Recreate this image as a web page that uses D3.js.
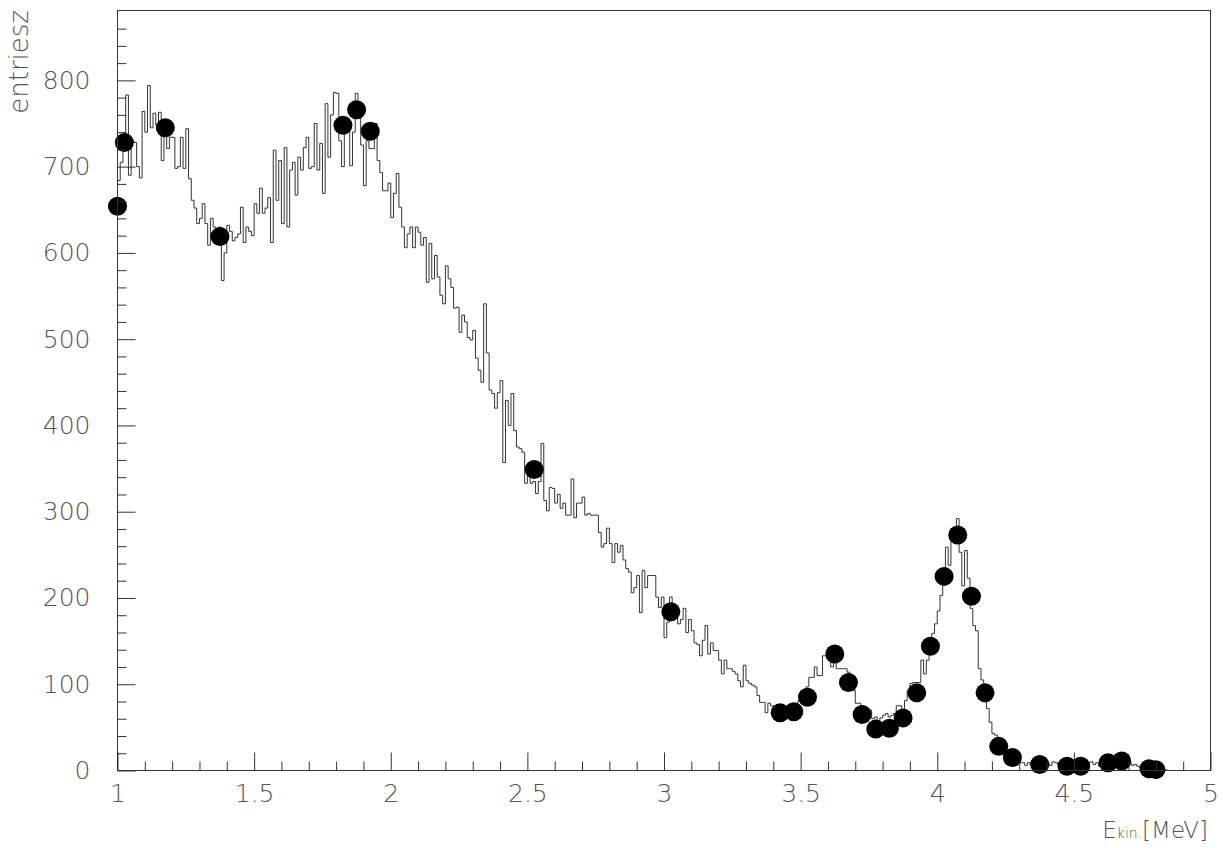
<!DOCTYPE html>
<html><head><meta charset="utf-8">
<script src="https://cdn.jsdelivr.net/npm/d3@7"></script>
<style>body{margin:0;background:#fff}svg{display:block}</style>
</head><body><svg id="c" width="1225" height="848"></svg>
<script>
// ---- data ----
const binStart = 1.0;      // MeV, low edge of first bin
const binWidth = 0.01;     // MeV
const counts = [
 684,705,720,783,690,730,728,700,687,764,
 740,794,745,762,748,763,707,746,721,734,
 734,698,700,734,698,744,686,661,652,634,
 640,657,634,609,640,630,627,630,568,600,
 632,625,614,618,622,653,612,630,625,620,
 657,646,675,646,652,664,612,719,661,707,
 634,722,630,696,705,667,711,696,722,734,
 698,700,750,696,727,669,773,711,760,786,
 785,730,700,757,746,701,740,785,760,725,
 678,730,721,721,750,707,693,672,672,681,
 641,669,692,653,630,606,622,630,606,630,
 624,609,618,566,611,570,597,572,551,541,
 585,570,560,536,537,508,528,520,502,499,
 510,478,464,450,541,484,441,437,420,438,
 452,357,429,400,437,394,375,373,369,333,
 350,333,335,321,335,379,313,301,328,327,
 310,320,304,310,296,296,338,293,310,310,
 317,296,298,296,296,296,276,259,263,281,
 263,241,263,253,261,244,234,230,206,212,
 226,183,232,212,226,226,226,201,189,201,
 154,172,201,189,189,170,175,188,160,175,
 162,148,146,133,151,168,135,148,139,139,
 128,112,128,118,118,115,112,104,97,122,
 104,101,99,97,87,79,79,67,78,75,
 70,70,66,66,66,67,67,73,73,81,
 89,89,97,108,108,120,110,110,133,133,
 133,120,125,118,118,118,118,114,108,93,
 78,78,75,70,70,70,60,62,56,61,
 64,66,62,64,66,75,75,70,81,93,
 101,102,102,102,128,112,128,143,159,170,
 185,203,224,259,238,272,263,292,253,214,
 255,223,188,168,162,118,105,95,72,56,
 43,41,27,27,22,19,19,15,15,12,
 9,9,6,9,6,9,8,10,7,9,
 8,6,10,9,7,8,5,7,6,8,
 10,6,5,8,6,9,10,7,9,5,
 8,11,9,8,10,12,9,8,11,7,
 9,6,7,5,3,4,3,2,3,2,
 3,2,1,1
];
const pointE = [1.0,1.025,1.175,1.375,1.825,1.875,1.925,2.525,3.025,3.425,3.475,3.525,3.625,3.675,3.725,3.775,3.825,3.875,3.925,3.975,4.025,4.075,4.125,4.175,4.225,4.275,4.375,4.475,4.525,4.625,4.675,4.775,4.8];
const pointN = [654,728,745,619,748,766,741,349,184,67,68,85,135,102,65,48,49,61,90,144,225,273,202,90,28,15,7,5,5,9,11,2,1];
const xMajorTicks = [1,1.5,2,2.5,3,3.5,4,4.5,5];
const xTickLabels = ["1","1.5","2","2.5","3","3.5","4","4.5","5"];
const xMinorTicks = [1.1,1.2,1.3,1.4,1.6,1.7,1.8,1.9,2.1,2.2,2.3,2.4,2.6,2.7,2.8,2.9,3.1,3.2,3.3,3.4,3.6,3.7,3.8,3.9,4.1,4.2,4.3,4.4,4.6,4.7,4.8,4.9];
const yMajorTicks = [0,100,200,300,400,500,600,700,800];
const yTickLabels = ["0","100","200","300","400","500","600","700","800"];
const yMinorTicks = [20,40,60,80,120,140,160,180,220,240,260,280,320,340,360,380,420,440,460,480,520,540,560,580,620,640,660,680,720,740,760,780,820,840,860];
const yTitle = "entriesz";
const xTitleMain = "E", xTitleSub = "kin.", xTitleUnit = "[MeV]";
const xDomain = [1,5], yDomain = [0,881];

// ---- drawing ----
const svg = d3.select("#c");
const L = 117.5, R = 1210.5, T = 10.5, B = 770.5;
const x = d3.scaleLinear().domain(xDomain).range([L, R]);
const y = d3.scaleLinear().domain(yDomain).range([B, T]);
const FONT = "'DejaVu Sans', sans-serif";
const AX = "#333", TXT = "#555";

// histogram outline
const pts = [[binStart, 0]];
counts.forEach((c, i) => {
  const lo = binStart + i * binWidth, hi = binStart + (i + 1) * binWidth;
  pts.push([lo, c], [hi, c]);
});
pts.push([binStart + counts.length * binWidth, 0]);
svg.append("path")
  .attr("d", d3.line().x(d => x(d[0])).y(d => y(d[1]))(pts))
  .attr("fill", "none").attr("stroke", "#333").attr("stroke-width", 1);

// points
svg.append("g").selectAll("circle").data(pointE).join("circle")
  .attr("cx", d => x(d)).attr("cy", (d, i) => y(pointN[i]))
  .attr("r", 9.5).attr("fill", "#000");

// frame
svg.append("rect").attr("x", L).attr("y", T).attr("width", R - L).attr("height", B - T)
  .attr("fill", "none").attr("stroke", AX).attr("stroke-width", 1);

function styleAxis(g) {
  g.select(".domain").remove();
  g.selectAll("line").attr("stroke", AX);
  g.selectAll("text").attr("font-family", FONT).attr("font-size", 25)
    .attr("font-weight", 200).attr("fill", TXT);
}
// y axis
svg.append("g").attr("transform", `translate(${L},0)`)
  .call(d3.axisLeft(y).tickValues(yMajorTicks).tickSizeInner(-18).tickSizeOuter(0)
    .tickPadding(27).tickFormat((d, i) => yTickLabels[i]))
  .call(styleAxis);
svg.append("g").attr("transform", `translate(${L},0)`)
  .call(d3.axisLeft(y).tickValues(yMinorTicks).tickSizeInner(-9).tickSizeOuter(0).tickFormat(""))
  .call(styleAxis);
// x axis
svg.append("g").attr("transform", `translate(0,${B})`)
  .call(d3.axisBottom(x).tickValues(xMajorTicks).tickSizeInner(-18).tickSizeOuter(0)
    .tickPadding(14).tickFormat((d, i) => xTickLabels[i]))
  .call(styleAxis);
svg.append("g").attr("transform", `translate(0,${B})`)
  .call(d3.axisBottom(x).tickValues(xMinorTicks).tickSizeInner(-9).tickSizeOuter(0).tickFormat(""))
  .call(styleAxis);

// titles
svg.append("text")
  .attr("transform", "translate(28,10) rotate(-90)")
  .attr("text-anchor", "end").attr("font-family", FONT).attr("font-size", 26)
  .attr("font-weight", 200).attr("fill", TXT).text(yTitle);

const xt = svg.append("text").attr("x", 1208).attr("y", 838)
  .attr("text-anchor", "end").attr("font-family", FONT).attr("font-weight", 200).attr("fill", TXT);
xt.append("tspan").attr("font-size", 23).text(xTitleMain);
xt.append("tspan").attr("font-size", 14).text(xTitleSub);
xt.append("tspan").attr("font-size", 23).text(xTitleUnit);
</script>
</body></html>
